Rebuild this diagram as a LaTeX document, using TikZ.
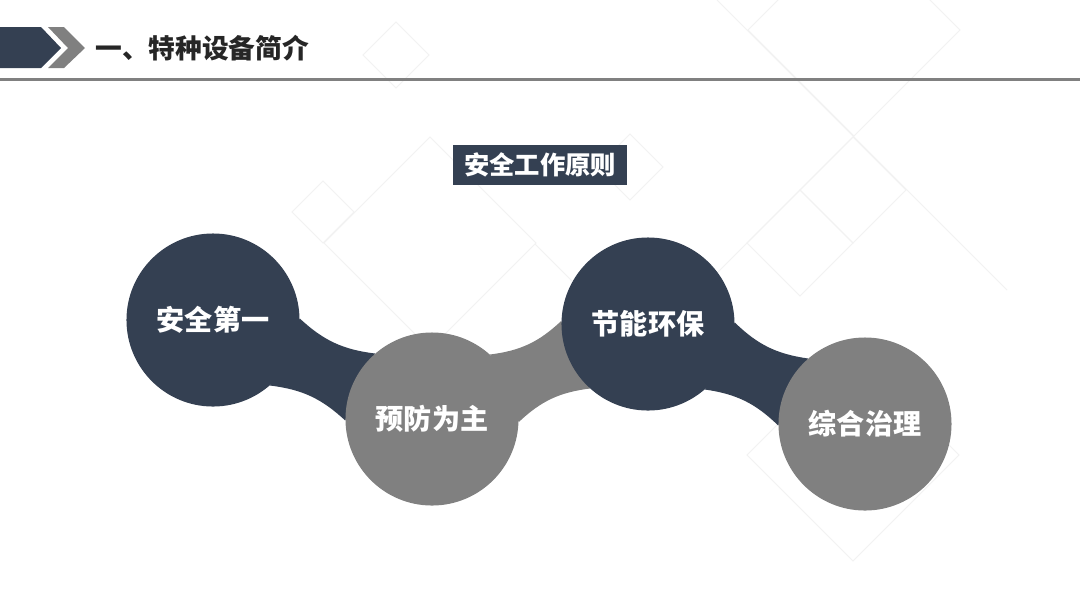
\documentclass[tikz,border=0pt]{standalone}
\usepackage{fontspec}
\setmainfont{Noto Sans CJK SC}
\usetikzlibrary{backgrounds}
\definecolor{navy}{RGB}{52,64,82}
\definecolor{midgray}{RGB}{128,128,128}
\definecolor{linegray}{RGB}{242,242,242}
\definecolor{titleink}{RGB}{38,38,38}
\begin{document}
\begin{tikzpicture}[x=0.025cm,y=-0.025cm]
			\tikzstyle{ball}=[circle,inner sep=0pt,minimum size=4.325cm,text=white,font=\bfseries\fontsize{20}{20}\selectfont]
			\tikzstyle{grid}=[draw=linegray,line width=0.6pt]
			\tikzstyle{neck}=[bend right=18]

			\useasboundingbox (0,0) rectangle (1080,608);

			\begin{pgfonlayer}{background}
				\fill [white] (0,0) rectangle (1080,608);
				% faint diamonds behind everything
				\foreach \cx/\cy/\h in {396/55/33, 854/30/106, 853/190/53, 800/243/53, 430/243/106, 323/212/31, 630/167/33, 853/455/106}
					\draw [grid] (\cx,\cy-\h) -- (\cx+\h,\cy) -- (\cx,\cy+\h) -- (\cx-\h,\cy) -- cycle;
				\draw [grid] (717,0) -- (1007,290);
				\draw [grid] (853,137) -- (717,273);
				\draw [grid] (535,244) -- (572,281);
			\end{pgfonlayer}

			\fill [navy] (0,27) -- (41,27) -- (61,48) -- (41,68) -- (0,68) -- cycle;
			\fill [midgray] (48,27) -- (64,27) -- (85,48) -- (64,68) -- (48,68) -- (68,48) -- cycle;
			\node (title) [anchor=west,inner sep=0pt,text=titleink,font=\bfseries\fontsize{19}{19}\selectfont] at (95,48) {一、特种设备简介};
			\fill [midgray] (0,77.5) rectangle (1080,81);

			\node (head) [fill=navy,text=white,inner sep=0pt,minimum width=4.35cm,minimum height=1cm,font=\bfseries\fontsize{18}{18}\selectfont] at (540,165) {安全工作原则};

			\node (p1) [ball,fill=navy] at (213,320) {安全第一};
			\node (p2) [ball,fill=midgray] at (432,419) {预防为主};
			\node (p3) [ball,fill=navy] at (648,324) {节能环保};
			\node (p4) [ball,fill=midgray] at (865,424) {综合治理};

			\begin{pgfonlayer}{background}
				\fill [navy] (p1.1) to[neck] (p2.131) -- (p2.181) to[neck] (p1.-49) -- cycle;
				\fill [midgray] (p2.48) to[neck] (p3.178) -- (p3.228) to[neck] (p2.-2) -- cycle;
				\fill [navy] (p3.1) to[neck] (p4.131) -- (p4.181) to[neck] (p3.-49) -- cycle;
			\end{pgfonlayer}
		\end{tikzpicture}
\end{document}
